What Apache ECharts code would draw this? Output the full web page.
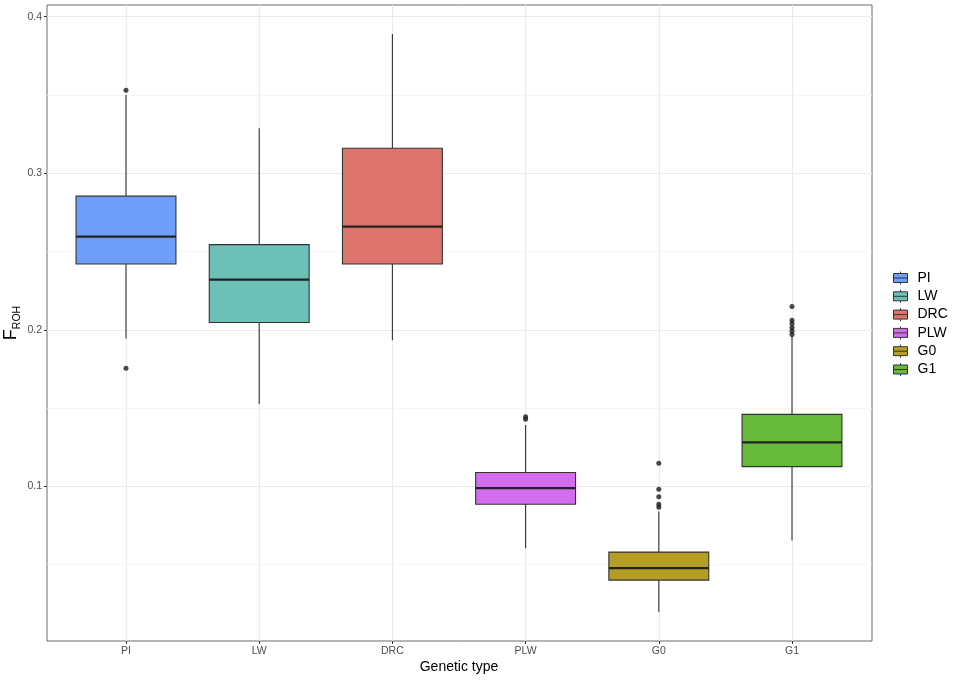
<!DOCTYPE html>
<html>
<head>
<meta charset="utf-8">
<script src="https://cdn.jsdelivr.net/npm/echarts@6/dist/echarts.min.js"></script>
<style>
  html, body { margin: 0; padding: 0; background: #fff; }
  #chart { width: 957px; height: 680px; }
</style>
</head>
<body>
<div id="chart"></div>
<script>
// groups and their fill colours
const grupos = ['PI', 'LW', 'DRC', 'PLW', 'G0', 'G1']
const cores = ['#6E9EFA', '#6CC0B6', '#DE756D', '#D36CEE', '#B49E25', '#67B93A']

// [whisker low, Q1, median, Q3, whisker high]
const caixas = [
    [0.1944, 0.2420, 0.2595, 0.2854, 0.3500],
    [0.1526, 0.2047, 0.2320, 0.2544, 0.3288],
    [0.1934, 0.2420, 0.2659, 0.3160, 0.3890],
    [0.0605, 0.0886, 0.0988, 0.1088, 0.1392],
    [0.0197, 0.0401, 0.0478, 0.0580, 0.0839],
    [0.0654, 0.1126, 0.1281, 0.1460, 0.1960]
]

// outliers per group
const outliers = [
    [0.3530, 0.1755],
    [],
    [],
    [0.1445, 0.1428],
    [0.1147, 0.0981, 0.0934, 0.0886, 0.0867],
    [0.2149, 0.2061, 0.2040, 0.2015, 0.1993, 0.1970]
]

const yTicks = [0.1, 0.2, 0.3, 0.4]
const yMinor = [0.05, 0.15, 0.25, 0.35]
const yMin = 0.0012
const yMax = 0.4075

function desenhaCaixa(params, api) {
    const i = api.value(0)
    const c = caixas[i]
    const larg = api.size([1, 0])[0] * 0.75
    const pLow = api.coord([i, c[0]])
    const pQ1 = api.coord([i, c[1]])
    const pMed = api.coord([i, c[2]])
    const pQ3 = api.coord([i, c[3]])
    const pHigh = api.coord([i, c[4]])
    const x0 = pQ1[0] - larg / 2
    const linha = { stroke: '#333333', lineWidth: 1.1 }
    return {
        type: 'group',
        children: [
            { type: 'line', shape: { x1: pLow[0], y1: pLow[1], x2: pQ1[0], y2: pQ1[1] }, style: linha },
            { type: 'line', shape: { x1: pQ3[0], y1: pQ3[1], x2: pHigh[0], y2: pHigh[1] }, style: linha },
            { type: 'rect', shape: { x: x0, y: pQ3[1], width: larg, height: pQ1[1] - pQ3[1] },
              style: { fill: api.visual('color'), stroke: '#333333', lineWidth: 1.1 } },
            { type: 'line', shape: { x1: x0, y1: pMed[1], x2: x0 + larg, y2: pMed[1] },
              style: { stroke: '#222222', lineWidth: 2.2 } }
        ]
    }
}

const series = grupos.map((g, i) => ({
    name: g,
    type: 'custom',
    xAxisIndex: 1,
    yAxisIndex: 2,
    itemStyle: { color: cores[i] },
    renderItem: desenhaCaixa,
    encode: { x: 0, y: 1 },
    data: [[i, caixas[i][2]]],
    z: 3
}))

const pontos = []
outliers.forEach((lista, i) => lista.forEach((v) => pontos.push([i, v])))
series.push({
    name: 'outliers',
    type: 'scatter',
    xAxisIndex: 1,
    yAxisIndex: 2,
    symbolSize: 5,
    itemStyle: { color: '#1a1a1a' },
    data: pontos,
    z: 4
})

const legendaIcone = 'path://M0,2 H14 V11 H0 Z M0,6.5 H14 M7,0 V2 M7,11 V13'

const option = {
    backgroundColor: '#ffffff',
    animation: false,
    textStyle: { fontFamily: 'Liberation Sans, Arial, sans-serif' },
    grid: [
        { left: 47, right: 85, top: 5, bottom: 39, outerBoundsMode: 'none', containLabel: false,
          show: true, borderColor: '#6b6b6b', borderWidth: 1, backgroundColor: 'transparent' },
        { left: 126, right: 165, top: 5, bottom: 39, outerBoundsMode: 'none', containLabel: false }
    ],
    legend: {
        data: grupos,
        orient: 'vertical',
        left: 888,
        top: 265,
        itemWidth: 14,
        itemHeight: 13,
        itemGap: 2.3,
        icon: legendaIcone,
        itemStyle: { borderColor: '#333333', borderWidth: 1 },
        textStyle: { fontSize: 14, lineHeight: 16, color: '#000000', padding: [0, 0, 0, 5] },
        selectedMode: false
    },
    xAxis: [
        { type: 'value', gridIndex: 0, min: 0, max: 1, show: false },
        {
            type: 'category',
            gridIndex: 1,
            data: grupos,
            boundaryGap: false,
            position: 'bottom',
            offset: 0,
            axisLine: { show: false },
            axisTick: { show: true, length: 3, lineStyle: { color: '#333333' } },
            axisLabel: { fontSize: 10.5, color: '#4D4D4D', margin: 5 },
            splitLine: { show: true, lineStyle: { color: '#EBEBEB', width: 1.2 } },
            name: 'Genetic type',
            nameLocation: 'middle',
            nameGap: 19,
            nameMoveOverlap: false,
            nameTextStyle: { fontSize: 14, color: '#000000', verticalAlign: 'top' }
        }
    ],
    yAxis: [
        {
            type: 'value',
            gridIndex: 0,
            min: yMin,
            max: yMax,
            axisLine: { show: false },
            axisTick: { show: true, length: 3, customValues: yTicks, lineStyle: { color: '#333333' } },
            axisLabel: { fontSize: 10.5, color: '#4D4D4D', margin: 5, customValues: yTicks, formatter: (v) => v.toFixed(1) },
            splitLine: { show: true, lineStyle: { color: '#EBEBEB', width: 1.2 } },
            name: '{a|F}{b|ROH}',
            nameLocation: 'middle',
            nameRotate: 90,
            nameGap: 27,
            nameMoveOverlap: false,
            nameTextStyle: {
                rich: {
                    a: { fontSize: 18, color: '#000000', lineHeight: 20, verticalAlign: 'bottom' },
                    b: { fontSize: 10.5, color: '#000000', lineHeight: 10, verticalAlign: 'bottom', padding: [0, 0, -3, 0] }
                }
            },
            z: 1
        },
        {
            type: 'value',
            gridIndex: 0,
            min: yMin,
            max: yMax,
            axisLine: { show: false },
            axisTick: { show: false, customValues: yMinor },
            axisLabel: { show: false, customValues: yMinor },
            splitLine: { show: true, lineStyle: { color: '#F2F2F2', width: 0.7 } },
            z: 0
        },
        { type: 'value', gridIndex: 1, min: yMin, max: yMax, show: false, splitLine: { show: false } }
    ],
    series: series
}

const chart = echarts.init(document.getElementById('chart'))
chart.setOption(option)
</script>
</body>
</html>
